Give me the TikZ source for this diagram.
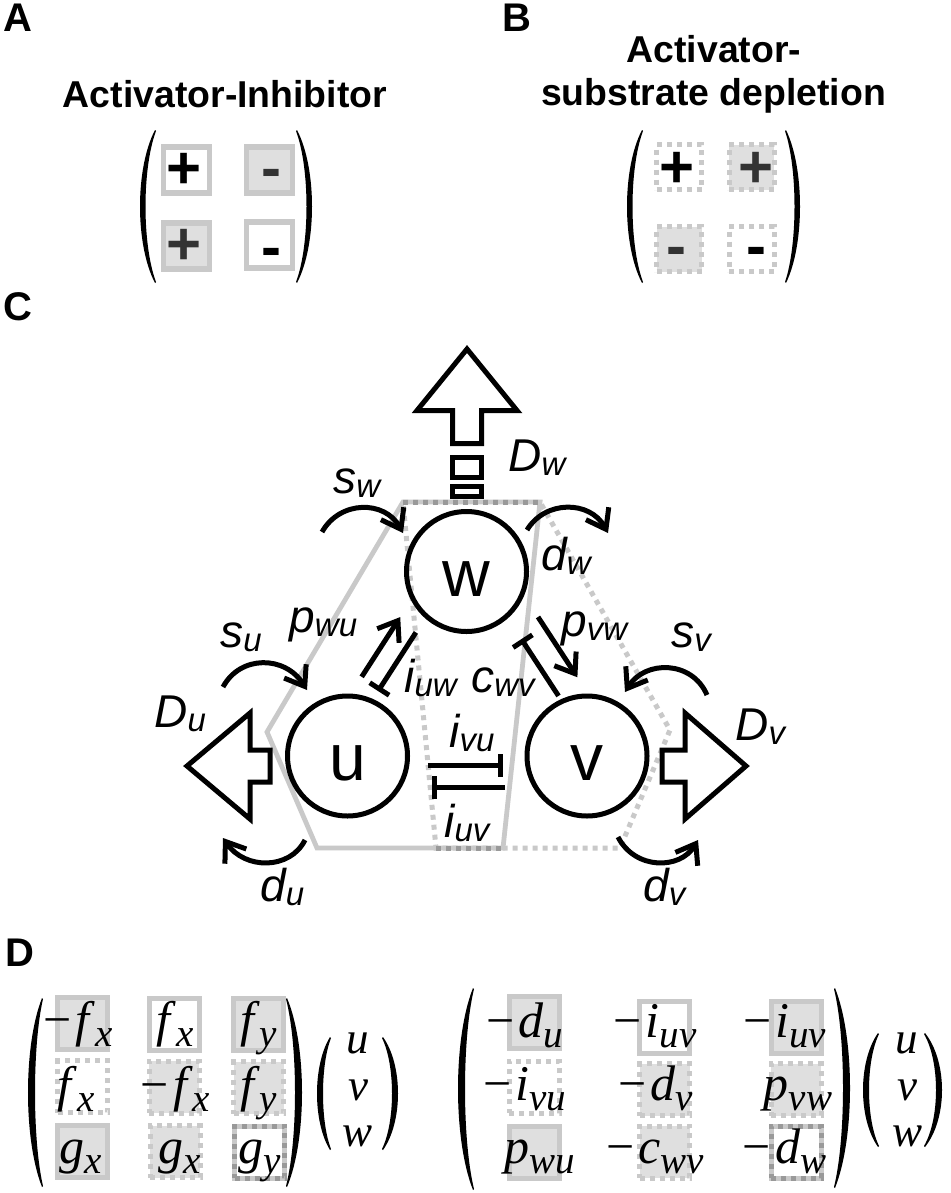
\documentclass[tikz,border=0pt]{standalone}
\usepackage{fontspec}
\setmainfont{Liberation Sans}
\newfontfamily\serifm{Liberation Serif}
\usetikzlibrary{arrows.meta,calc}
\definecolor{bgrey}{gray}{0.79}
\definecolor{fgrey}{gray}{0.875}
\definecolor{dgrey}{gray}{0.6}
\definecolor{sgrey}{gray}{0.2}
% parentheses drawn as filled crescents: x of ends, y top, y bottom, bulge, thickness
\newcommand{\pL}[5]{\fill ({#1},{#2}) .. controls ({#1-#4/0.75},{#2+(#3-#2)/4}) and ({#1-#4/0.75},{#3-(#3-#2)/4}) .. ({#1},{#3}) -- ({#1+1},{#3-1}) .. controls ({#1-(#4-#5)/0.75+1},{#3-(#3-#2)/4}) and ({#1-(#4-#5)/0.75+1},{#2+(#3-#2)/4}) .. ({#1+1},{#2+1}) -- cycle;}
\newcommand{\pR}[5]{\fill ({#1},{#2}) .. controls ({#1+#4/0.75},{#2+(#3-#2)/4}) and ({#1+#4/0.75},{#3-(#3-#2)/4}) .. ({#1},{#3}) -- ({#1-1},{#3-1}) .. controls ({#1+(#4-#5)/0.75-1},{#3-(#3-#2)/4}) and ({#1+(#4-#5)/0.75-1},{#2+(#3-#2)/4}) .. ({#1-1},{#2+1}) -- cycle;}
\newcommand{\clab}[2]{{\fontsize{23}{24}\selectfont\itshape #1\raisebox{-2pt}{\fontsize{16.5}{17}\selectfont\itshape #2}}}
\newcommand{\mEnt}[3]{{\fontsize{25}{26}\selectfont\serifm #1\textit{#2}\raisebox{-5pt}{\fontsize{19.5}{20}\selectfont\itshape #3}}}
\newcommand{\mm}{\char"2212\hspace{2pt}}
\begin{document}
\begin{tikzpicture}[x=0.5pt,y=-0.5pt,
 panel/.style={font=\fontsize{20}{20}\selectfont\bfseries, anchor=base west, inner sep=0pt},
 ttl/.style={font=\fontsize{18.7}{21}\selectfont\bfseries, anchor=base, inner sep=0pt},
 sbox/.style={draw=bgrey, line width=2.75pt, minimum size=23pt, inner sep=0pt, outer sep=0pt},
 dbox/.style={draw=bgrey, line width=2.5pt, dash pattern=on 2.5pt off 2.5pt, minimum size=22.5pt, inner sep=0pt, outer sep=0pt},
 gf/.style={fill=fgrey}, wf/.style={fill=white},
 sign/.style={font=\fontsize{30}{30}\selectfont\bfseries, anchor=base, inner sep=0pt},
 circ/.style={circle, draw, line width=2.5pt, minimum size=60pt, inner sep=0pt, outer sep=0pt, font=\fontsize{33}{33}\selectfont, text height=24.5pt, text depth=0pt},
 lab/.style={anchor=base west, inner sep=0pt},
 bigarr/.style={draw, fill=white, line width=2.5pt, line join=miter, miter limit=10},
 act/.style={line width=2.5pt, -{Straight Barb[length=9pt,width=13pt]}},
 inh/.style={line width=2.5pt, -{Bar[width=11.5pt]}},
 curv/.style={line width=2.5pt, -{Straight Barb[length=9pt,width=13pt]}},
 solidpoly/.style={draw=bgrey, line width=2.4pt, line join=miter},
 dotpoly/.style={draw=bgrey, line width=2.5pt, dash pattern=on 2.5pt off 2.5pt},
 overdot/.style={draw=dgrey, line width=2.5pt, dash pattern=on 2.5pt off 2.5pt},
 mbox/.style={minimum width=25pt, minimum height=26pt, inner sep=0pt, outer sep=0pt},
 ms/.style={mbox, draw=bgrey, line width=2.5pt},
 md/.style={mbox, draw=bgrey, line width=2.5pt, dash pattern=on 2.5pt off 2.5pt},
 mo/.style={ms, postaction={draw=dgrey, line width=2.5pt, dash pattern=on 2.5pt off 2.5pt}},
 ent/.style={anchor=base, inner sep=0pt},
 vec/.style={anchor=base, inner sep=0pt, font=\fontsize{22.5}{23}\selectfont\serifm\itshape}
]
\useasboundingbox (0,0) rectangle (951,1193);
\fill[white] (0,0) rectangle (951,1193);

% ---------- Panel labels ----------
\node[panel] (lA) at (3,32) {A};
\node[panel] (lB) at (502,32) {B};
\node[panel] (lC) at (3,320) {C};
\node[panel] (lD) at (5,966) {D};

% ---------- Panel A ----------
\node[ttl] (tA) at (225,108) {Activator-Inhibitor};
\pL{155}{130}{283}{15}{4.5}
\pR{297}{130}{283}{15}{4.5}
\node[sbox, wf] (a11) at (186.5,170) {};
\node[sbox, gf] (a12) at (269.5,170) {};
\node[sbox, gf] (a21) at (186.5,246) {};
\node[sbox, wf] (a22) at (269.5,245) {};
\node[sign] (sa11) at (184,188) {+};
\node[sign, text=sgrey] (sa12) at (271,188.5) {-};
\node[sign, text=sgrey] (sa21) at (184,264.5) {+};
\node[sign] (sa22) at (271,267.5) {-};

% ---------- Panel B ----------
\node[ttl] (tB1) at (714,63) {Activator-};
\node[ttl] (tB2) at (713.5,105) {substrate depletion};
\pL{642}{130}{283}{15}{4.5}
\pR{786}{130}{283}{14}{4.5}
\node[dbox, wf] (b11) at (679,167) {};
\node[dbox, gf] (b12) at (751.5,167) {};
\node[dbox, gf] (b21) at (679,249) {};
\node[dbox, wf] (b22) at (751.5,249) {};
\node[sign] (sb11) at (677.5,187.5) {+};
\node[sign, text=sgrey] (sb12) at (756,187.5) {+};
\node[sign, text=sgrey] (sb21) at (676,266.5) {-};
\node[sign] (sb22) at (756,266.5) {-};

% ---------- Panel C ----------
% regions
\draw[solidpoly] (403,502) -- (540,502) -- (503,848) -- (317,848) -- (267,732) -- cycle;
\draw[dotpoly] (403,502) -- (540,502) -- (670,730) -- (620,848) -- (436,848) -- cycle;
\draw[overdot] (403,502) -- (540,502);
\draw[overdot] (436,848) -- (503,848);

% species
\node[circ] (w) at (466.5,571.5) {w};
\node[circ] (u) at (347.5,756) {u};
\node[circ] (v) at (587,756) {v};

% diffusion arrows
\draw[bigarr] (467,349) -- (517,410.5) -- (481.5,410.5) -- (481.5,443.5) -- (452.5,443.5) -- (452.5,410.5) -- (417,410.5) -- cycle;
\draw[bigarr] (452.5,457.5) rectangle (481.5,477.5);
\draw[bigarr] (452.5,486.5) rectangle (481.5,496.5);
\draw[bigarr] (187,766) -- (250,713) -- (250,750) -- (270,750) -- (270,782) -- (250,782) -- (250,819) -- cycle;
\draw[bigarr] (746,766) -- (685,713) -- (685,750) -- (662,750) -- (662,782) -- (685,782) -- (685,819) -- cycle;

% interactions
\draw[act] ($(u.center)!0.338!(w.center)!15.5pt!90:(w.center)$) -- ($(u.center)!0.662!(w.center)!15.5pt!90:(w.center)$);
\draw[inh] ($(u.center)!0.642!(w.center)!4.75pt!90:(w.center)$) -- ($(u.center)!0.324!(w.center)!4.75pt!90:(w.center)$);
\draw[act] ($(w.center)!0.350!(v.center)!17.5pt!90:(v.center)$) -- ($(w.center)!0.677!(v.center)!17.5pt!90:(v.center)$);
\draw[inh] ($(w.center)!0.701!(v.center)!4.5pt!90:(v.center)$) -- ($(w.center)!0.393!(v.center)!4.5pt!90:(v.center)$);
\draw[inh] ($(u.center)!0.336!(v.center)!4.75pt!-90:(v.center)$) -- ($(u.center)!0.649!(v.center)!4.75pt!-90:(v.center)$);
\draw[inh] ($(u.center)!0.658!(v.center)!15.75pt!-90:(v.center)$) -- ($(u.center)!0.353!(v.center)!15.75pt!-90:(v.center)$);

% production and decay
\coordinate (sw0) at (322,532); \coordinate (sw1) at (403,533);
\coordinate (dw0) at (527,530); \coordinate (dw1) at (608,533);
\coordinate (su0) at (223,687); \coordinate (su1) at (307,690);
\coordinate (sv0) at (707,695); \coordinate (sv1) at (625,692);
\coordinate (du0) at (305,840); \coordinate (du1) at (223,838);
\coordinate (dv0) at (618,837); \coordinate (dv1) at (698,840);
\draw[curv] (sw0) .. controls (340,500) and (385,500) .. (sw1);
\draw[curv] (dw0) .. controls (545,500) and (590,500) .. (dw1);
\draw[curv] (su0) .. controls (240,655) and (285,655) .. (su1);
\draw[curv] (sv0) .. controls (692,660) and (645,660) .. (sv1);
\draw[curv] (du0) .. controls (290,870) and (245,870) .. (du1);
\draw[curv] (dv0) .. controls (635,870) and (680,870) .. (dv1);

% labels
\node[lab] (Lsw) at (333,493) {\clab{s}{w}};
\node[lab] (LDw) at (508,471) {\clab{D}{w}};
\node[lab] (Ldw) at (541,570) {\clab{d}{w}};
\node[lab] (Lsu) at (220,647) {\clab{s}{u}};
\node[lab] (Lpwu) at (289,632) {\clab{p}{wu}};
\node[lab] (LDu) at (154,727) {\clab{D}{u}};
\node[lab] (Liuw) at (404,692) {\clab{i}{uw}};
\node[lab] (Lcwv) at (471,692) {\clab{c}{wv}};
\node[lab] (Lpvw) at (561,636) {\clab{p}{vw}};
\node[lab] (Lsv) at (671,647) {\clab{s}{v}};
\node[lab] (LDv) at (735,740) {\clab{D}{v}};
\node[lab] (Livu) at (449,747) {\clab{i}{vu}};
\node[lab] (Liuv) at (444,837) {\clab{i}{uv}};
\node[lab] (Ldu) at (260,901) {\clab{d}{u}};
\node[lab] (Ldv) at (643,901) {\clab{d}{v}};

% ---------- Panel D ----------
% left matrix
\pL{42}{998}{1187}{14}{6}
\pR{287}{998}{1187}{15}{6}
\node[ms, gf] (m11) at (82.5,1023.5) {};
\node[ms, wf] (m12) at (174.5,1024) {};
\node[ms, gf] (m13) at (258.5,1024) {};
\node[md, wf] (m21) at (82.5,1086.5) {};
\node[md, gf] (m22) at (174,1087) {};
\node[md, gf] (m23) at (258.5,1087.5) {};
\node[ms, gf] (m31) at (82.5,1151.5) {};
\node[md, gf] (m32) at (175,1151.5) {};
\node[mo, wf] (m33) at (259.5,1152) {};
\node[ent] (e11) at (78,1036) {\mEnt{\mm}{f}{x}};
\node[ent] (e12) at (175,1036) {\mEnt{}{f}{x}};
\node[ent] (e13) at (258.5,1036) {\mEnt{}{f}{y}};
\node[ent] (e21) at (76,1101) {\mEnt{}{f}{x}};
\node[ent] (e22) at (175.5,1101) {\mEnt{\mm}{f}{x}};
\node[ent] (e23) at (258.5,1101) {\mEnt{}{f}{y}};
\node[ent] (e31) at (81,1163) {\mEnt{}{g}{x}};
\node[ent] (e32) at (180,1163) {\mEnt{}{g}{x}};
\node[ent] (e33) at (260,1163) {\mEnt{}{g}{y}};
% left vector
\pL{330}{1037}{1150}{13}{5}
\pR{383}{1037}{1150}{15}{5}
\node[vec] (vu1) at (358,1053) {u};
\node[vec] (vv1) at (358,1100) {v};
\node[vec] (vw1) at (358,1146) {w};

% right matrix
\pL{473}{988}{1190}{15}{6}
\pR{835}{988}{1188}{15}{6}
\node[ms, gf] (n11) at (534,1022) {};
\node[ms, wf] (n12) at (664.5,1027) {};
\node[ms, gf] (n13) at (796,1027) {};
\node[md, wf] (n21) at (534,1087) {};
\node[md, gf] (n22) at (664.5,1089.5) {};
\node[md, gf] (n23) at (796,1089.5) {};
\node[ms, gf] (n31) at (534,1152) {};
\node[md, gf] (n32) at (664.5,1152) {};
\node[mo, wf] (n33) at (796,1152) {};
\node[ent] (f11) at (525,1037) {\mEnt{\mm}{d}{u}};
\node[ent] (f12) at (655,1037) {\mEnt{\mm}{i}{uv}};
\node[ent] (f13) at (784.5,1037) {\mEnt{\mm}{i}{uv}};
\node[ent] (f21) at (525,1100) {\mEnt{\mm}{i}{vu}};
\node[ent] (f22) at (655.5,1100) {\mEnt{\mm}{d}{v}};
\node[ent] (f23) at (798,1100) {\mEnt{}{p}{vw}};
\node[ent] (f31) at (540,1163) {\mEnt{}{p}{wu}};
\node[ent] (f32) at (655,1163) {\mEnt{\mm}{c}{wv}};
\node[ent] (f33) at (784.5,1163) {\mEnt{\mm}{d}{w}};
% right vector
\pL{878}{1033}{1147}{15}{5}
\pR{925}{1033}{1147}{17}{5}
\node[vec] (vu2) at (907,1053) {u};
\node[vec] (vv2) at (907,1100) {v};
\node[vec] (vw2) at (907,1146) {w};
\end{tikzpicture}
\end{document}
